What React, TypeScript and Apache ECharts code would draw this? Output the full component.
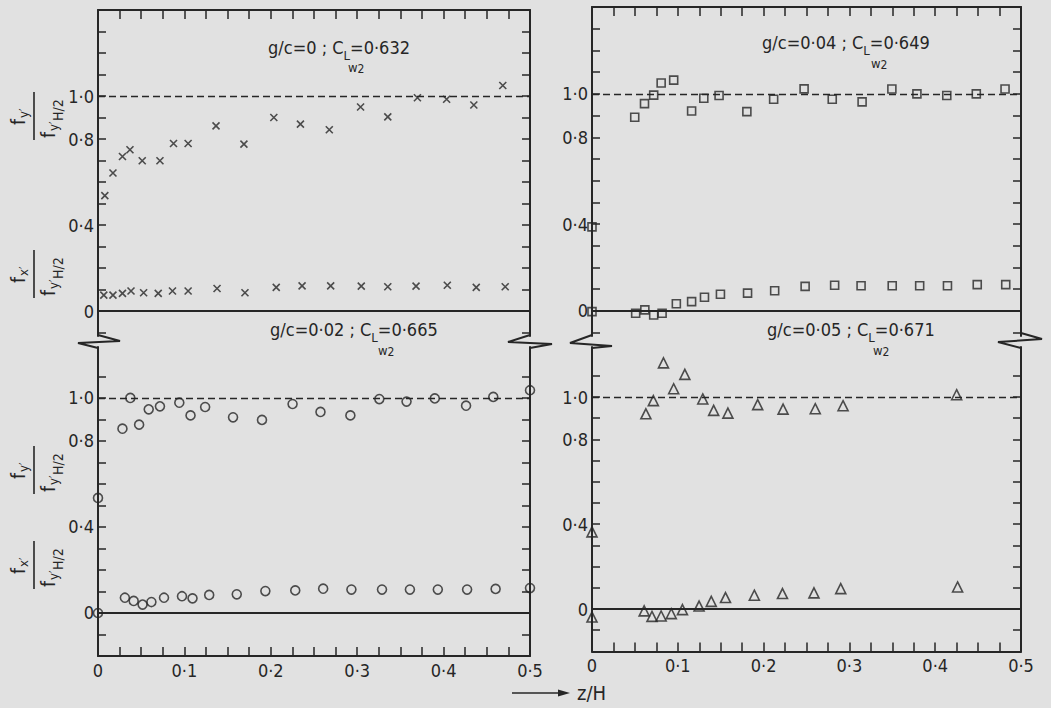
import React, { useEffect, useRef } from "react";
import * as echarts from "echarts";

// ---------- data ----------
// Panel A: g/c = 0 (crosses)
const A_UP_X = [0.0079, 0.0173, 0.0283, 0.037, 0.0512, 0.0717, 0.0874, 0.1043, 0.1366, 0.1689, 0.2035, 0.2343, 0.2677, 0.3039, 0.3354, 0.3697, 0.4035, 0.435, 0.4685];
const A_UP_Y = [0.537, 0.642, 0.719, 0.75, 0.699, 0.699, 0.779, 0.779, 0.861, 0.776, 0.9, 0.869, 0.843, 0.949, 0.903, 0.992, 0.985, 0.958, 1.049];
const A_LO_X = [0.0067, 0.0173, 0.0283, 0.0382, 0.0528, 0.0697, 0.0862, 0.1043, 0.1378, 0.1701, 0.2063, 0.2362, 0.2693, 0.3047, 0.3354, 0.3681, 0.4043, 0.4378, 0.4713];
const A_LO_Y = [0.074, 0.074, 0.082, 0.093, 0.085, 0.082, 0.093, 0.093, 0.105, 0.085, 0.11, 0.117, 0.117, 0.116, 0.113, 0.116, 0.12, 0.11, 0.113];

// Panel B: g/c = 0.04 (squares)
const B_UP_X = [0, 0.0498, 0.0612, 0.0719, 0.0806, 0.0952, 0.1161, 0.1303, 0.1481, 0.1805, 0.2117, 0.2472, 0.28, 0.3148, 0.3495, 0.3787, 0.4135, 0.4479, 0.4814];
const B_UP_Y = [0.387, 0.892, 0.955, 0.994, 1.05, 1.063, 0.921, 0.98, 0.992, 0.918, 0.975, 1.023, 0.975, 0.963, 1.022, 1.0, 0.992, 1.0, 1.022];
const B_LO_X = [0, 0.0509, 0.0616, 0.0719, 0.0817, 0.0983, 0.1161, 0.1311, 0.1497, 0.1813, 0.2129, 0.2484, 0.2828, 0.3136, 0.3499, 0.3819, 0.4143, 0.449, 0.4822];
const B_LO_Y = [-0.003, -0.011, 0.005, -0.019, -0.011, 0.033, 0.043, 0.063, 0.077, 0.082, 0.093, 0.113, 0.118, 0.116, 0.116, 0.116, 0.116, 0.121, 0.121];

// Panel C: g/c = 0.02 (circles)
const C_UP_X = [0, 0.0283, 0.0374, 0.0476, 0.0587, 0.0717, 0.0941, 0.1071, 0.124, 0.1563, 0.1898, 0.2252, 0.2575, 0.2921, 0.3256, 0.3571, 0.3898, 0.426, 0.4575, 0.5];
const C_UP_Y = [0.535, 0.857, 1.0, 0.876, 0.947, 0.961, 0.978, 0.919, 0.958, 0.91, 0.898, 0.972, 0.935, 0.919, 0.995, 0.983, 0.998, 0.964, 1.005, 1.036];
const C_LO_X = [0, 0.0311, 0.0413, 0.0516, 0.0618, 0.0764, 0.0972, 0.1094, 0.1287, 0.1606, 0.1937, 0.2283, 0.2606, 0.2933, 0.3287, 0.361, 0.3933, 0.4272, 0.4602, 0.5];
const C_LO_Y = [0, 0.071, 0.056, 0.039, 0.051, 0.071, 0.078, 0.068, 0.084, 0.087, 0.102, 0.105, 0.113, 0.109, 0.109, 0.109, 0.109, 0.109, 0.112, 0.116];

// Panel D: g/c = 0.05 (triangles)
const D_UP_X = [0, 0.0628, 0.0715, 0.0833, 0.0952, 0.1082, 0.1291, 0.1418, 0.1584, 0.1931, 0.2227, 0.2602, 0.2926, 0.425];
const D_UP_Y = [0.364, 0.921, 0.983, 1.161, 1.039, 1.107, 0.991, 0.937, 0.924, 0.964, 0.943, 0.945, 0.959, 1.011];
const D_LO_X = [0, 0.0608, 0.0699, 0.0806, 0.0924, 0.1054, 0.1248, 0.139, 0.1556, 0.1892, 0.222, 0.2587, 0.2899, 0.4261];
const D_LO_Y = [-0.038, -0.009, -0.035, -0.033, -0.022, -0.003, 0.014, 0.036, 0.054, 0.065, 0.073, 0.076, 0.096, 0.104];

const PANEL_TITLES = ["g/c=0 ; C", "g/c=0·04 ; C", "g/c=0·02 ; C", "g/c=0·05 ; C"];
const PANEL_CL = ["=0·632", "=0·649", "=0·665", "=0·671"];
const Y_LABEL_VALUES = [0, 0.4, 0.8, 1.0];
const X_LABEL_VALUES = [0, 0.1, 0.2, 0.3, 0.4, 0.5];
const X_AXIS_NAME = "z/H";

// ---------- styling / layout ----------
const INK = "#262626";
const BG = "#e1e1e1";
const FONT = '"Liberation Sans Narrow", "DejaVu Sans Condensed", "Arial Narrow", "Liberation Sans", sans-serif';

const LAYOUT = [
  { left: 98, top: 10, width: 432, height: 326, min: -0.116, max: 1.4, top_: true },
  { left: 592, top: 7, width: 429, height: 329, min: -0.1155, max: 1.4, top_: true },
  { left: 98, top: 347, width: 432, height: 309, min: -0.2, max: 1.237, top_: false },
  { left: 592, top: 347, width: 429, height: 304.4, min: -0.2, max: 1.236, top_: false },
];

const fmt = (v: number) => (Math.abs(v) < 1e-9 ? "0" : v.toFixed(1).replace(".", "·"));

const range = (a: number, b: number, step: number) => {
  const out: number[] = [];
  for (let k = Math.round(a / step); k * step <= b + 1e-9; k++) out.push(+(k * step).toFixed(4));
  return out;
};

const CROSS = "path://M0,0L10,10M10,0L0,10";

const pairs = (xs: number[], ys: number[]) => xs.map((x, i) => [x, ys[i]]);

export default function App() {
  const ref = useRef<HTMLDivElement>(null);
  useEffect(() => {
    if (!ref.current) return;
    const chart = echarts.init(ref.current, null, { renderer: "svg" });

    const grids = LAYOUT.map((g) => ({ left: g.left, top: g.top, width: g.width, height: g.height }));

    const xAxes = LAYOUT.map((g, i) => ({
      gridIndex: i,
      type: "value",
      min: 0,
      max: 0.5,
      interval: 0.1,
      position: g.top_ ? "top" : "bottom",
      axisLine: { show: true, onZero: false, lineStyle: { color: INK, width: 2 } },
      axisTick: { show: true, inside: true, length: 9, customValues: range(0.025, 0.475, 0.025), lineStyle: { color: INK, width: 1.5 } },
      axisLabel: {
        show: !g.top_,
        customValues: X_LABEL_VALUES,
        formatter: (v: number) => fmt(v),
        color: INK,
        fontSize: 18,
        fontFamily: FONT,
        margin: 5,
      },
      splitLine: { show: false },
    }));

    const yAxes: any[] = [];
    LAYOUT.forEach((g, i) => {
      const ticks = range(-0.1, g.max - 0.05, 0.1);
      yAxes.push({
        gridIndex: i,
        type: "value",
        min: g.min,
        max: g.max,
        position: "left",
        axisLine: { show: true, onZero: false, lineStyle: { color: INK, width: 2 } },
        axisTick: { show: true, inside: true, length: 8, customValues: ticks, lineStyle: { color: INK, width: 1.5 } },
        axisLabel: {
          show: true,
          customValues: Y_LABEL_VALUES,
          formatter: (v: number) => fmt(v),
          color: INK,
          fontSize: 18,
          fontFamily: FONT,
          margin: 4,
        },
        splitLine: { show: false },
      });
      yAxes.push({
        gridIndex: i,
        type: "value",
        min: g.min,
        max: g.max,
        position: "right",
        axisLine: { show: true, onZero: false, lineStyle: { color: INK, width: 2 } },
        axisTick: { show: true, inside: true, length: 8, customValues: ticks, lineStyle: { color: INK, width: 1.5 } },
        axisLabel: { show: false },
        splitLine: { show: false },
      });
    });

    const markLine = {
      silent: true,
      symbol: ["none", "none"],
      label: { show: false },
      data: [
        { yAxis: 1, lineStyle: { type: [7, 4], width: 1.3, color: INK } },
        { yAxis: 0, lineStyle: { type: "solid", width: 2, color: INK } },
      ],
    };

    const marker = (symbol: string, size: number) => ({
      symbol,
      symbolSize: size,
      itemStyle: { color: "rgba(0,0,0,0)", borderColor: INK, borderWidth: 1.6 },
    });

    const MARKS = [
      marker(CROSS, 7),
      marker("rect", 8),
      marker("circle", 9),
      marker("triangle", 10),
    ];
    const DATA = [
      [pairs(A_UP_X, A_UP_Y), pairs(A_LO_X, A_LO_Y)],
      [pairs(B_UP_X, B_UP_Y), pairs(B_LO_X, B_LO_Y)],
      [pairs(C_UP_X, C_UP_Y), pairs(C_LO_X, C_LO_Y)],
      [pairs(D_UP_X, D_UP_Y), pairs(D_LO_X, D_LO_Y)],
    ];

    const series: any[] = [];
    DATA.forEach((d, i) => {
      d.forEach((arr, k) => {
        series.push({
          type: "scatter",
          xAxisIndex: i,
          yAxisIndex: 2 * i,
          data: arr,
          ...MARKS[i],
          clip: false,
          z: 5,
          ...(k === 0 ? { markLine } : {}),
        });
      });
    });

    // annotation texts
    const annPos = [
      { x: 268, y: 38, wx: 348, wy: 61 },
      { x: 762, y: 33, wx: 871, wy: 57 },
      { x: 270, y: 320, wx: 378, wy: 344 },
      { x: 767, y: 320, wx: 873, wy: 344 },
    ];
    const annotations: any[] = [];
    annPos.forEach((p, i) => {
      annotations.push({
        type: "text",
        x: p.x,
        y: p.y,
        z: 20,
        style: {
          text: `{m|${PANEL_TITLES[i]}}{s|L}{m|${PANEL_CL[i]}}`,
          fill: INK,
          font: `18px ${FONT}`,
          rich: {
            m: { fontSize: 18, fontFamily: FONT, lineHeight: 24, verticalAlign: "top", fill: INK },
            s: { fontSize: 13, fontFamily: FONT, lineHeight: 13, verticalAlign: "bottom", fill: INK },
          },
        },
      });
      annotations.push({
        type: "text",
        x: p.wx,
        y: p.wy,
        z: 20,
        style: {
          text: "{w|w}{t|2}",
          fill: INK,
          rich: {
            w: { fontSize: 13, fontFamily: FONT, lineHeight: 14, verticalAlign: "top", fill: INK },
            t: { fontSize: 12, fontFamily: FONT, lineHeight: 12, verticalAlign: "bottom", fill: INK, padding: [6, 0, 0, 0] },
          },
        },
      });
    });

    // y-axis titles as rotated fractions
    const frac = (cx: number, cy: number, numSub: string) => ({
      type: "group",
      x: cx,
      y: cy,
      rotation: Math.PI / 2,
      children: [
        { type: "line", shape: { x1: -24, y1: 0, x2: 24, y2: 0 }, style: { stroke: INK, lineWidth: 1.6 } },
        { type: "text", x: -9, y: -26, style: { text: "f", fill: INK, font: `19px ${FONT}` } },
        { type: "text", x: -2, y: -17, style: { text: numSub, fill: INK, font: `13px ${FONT}` } },
        { type: "text", x: -22, y: 4, style: { text: "f", fill: INK, font: `19px ${FONT}` } },
        { type: "text", x: -15, y: 13, style: { text: "y′", fill: INK, font: `13px ${FONT}` } },
        { type: "text", x: -5, y: 17, style: { text: "H/2", fill: INK, font: `14px ${FONT}` } },
      ],
    });

    const zig = (pts: number[][]) => ({
      type: "polyline",
      z: 30,
      shape: { points: pts },
      style: { stroke: INK, lineWidth: 2, fill: "none" },
    });

    const graphic = [
      ...annotations,
      frac(34, 116, "y′"),
      frac(34, 274, "x′"),
      frac(34, 470, "y′"),
      frac(34, 565, "x′"),
      zig([[98, 335], [120, 341], [78, 343], [98, 348]]),
      zig([[530, 335], [508, 342], [552, 344], [530, 348]]),
      zig([[592, 335], [570, 343], [612, 346], [592, 348]]),
      zig([[1021, 333], [1042, 339], [998, 342], [1021, 348]]),
      { type: "line", shape: { x1: 512, y1: 693, x2: 566, y2: 693 }, style: { stroke: INK, lineWidth: 1.6 } },
      { type: "polygon", shape: { points: [[570, 693], [558, 689.5], [558, 696.5]] }, style: { fill: INK } },
      { type: "text", x: 577, y: 683, style: { text: X_AXIS_NAME, fill: INK, font: `20px ${FONT}` } },
    ];

    chart.setOption({
      animation: false,
      backgroundColor: BG,
      grid: grids,
      xAxis: xAxes,
      yAxis: yAxes,
      series,
      graphic,
    });
    return () => chart.dispose();
  }, []);

  return (
    <div style={{ position: "absolute", left: 0, top: 0, width: 1051, height: 708, background: BG }}>
      <div ref={ref} style={{ width: 1051, height: 708 }} />
    </div>
  );
}
